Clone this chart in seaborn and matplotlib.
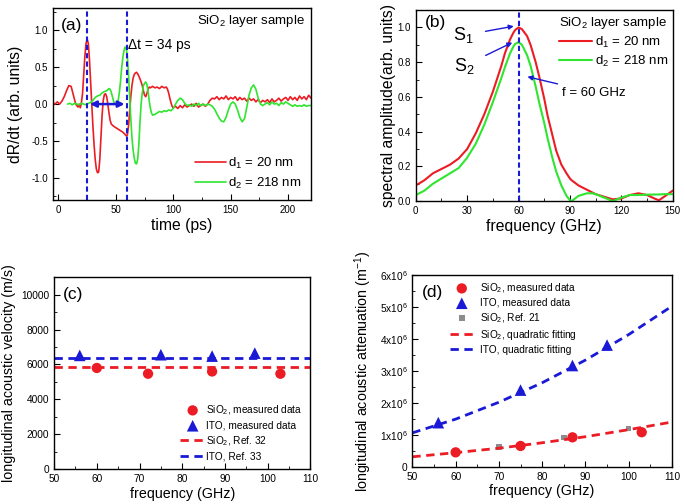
import matplotlib
matplotlib.use("Agg")
import matplotlib.pyplot as plt
import seaborn as sns
from matplotlib.ticker import MultipleLocator, FixedLocator, FixedFormatter

# ---------------- data ----------------
# (a) time-domain signals
t_d1 = [-5, -3, -1, 1, 3, 5, 7, 9, 11, 13, 15, 17, 18, 19, 20, 21, 22, 23, 24, 25,
        26, 27, 28, 29, 30, 31, 32, 33, 34, 35, 36, 37, 38, 39, 40, 41, 42, 43, 44, 45,
        46, 48, 50, 52, 54, 56, 58, 59, 60, 61, 62, 63, 64, 65, 66, 67, 68, 69, 70, 71,
        72, 73, 74, 75, 76, 77, 78, 79, 80, 82, 84, 86, 88, 90, 92, 94, 95, 96, 97, 98,
        99, 100, 102, 104, 106, 108, 110, 112, 114, 116, 118, 120, 122, 124, 126, 128,
        130, 132, 134, 136, 138, 140, 142, 144, 146, 148, 150, 152, 154, 156, 158, 160,
        162, 164, 166, 168, 170, 172, 174, 176, 178, 180, 182, 184, 186, 188, 190, 192,
        194, 196, 198, 200, 202, 204, 206, 208, 210, 212, 214, 216, 218, 220]
s_d1 = [0.02, 0.0, 0.03, 0.0, 0.04, 0.10, 0.18, 0.25, 0.24, 0.12, 0.0, -0.04, 0.0, -0.05, 0.02, 0.15, 0.40, 0.65, 0.82, 0.88,
        0.82, 0.60, 0.30, 0.0, -0.30, -0.55, -0.75, -0.88, -0.93, -0.92, -0.75, -0.45, -0.15, 0.05, 0.13, 0.14, 0.10, 0.0, -0.12, -0.22,
        -0.27, -0.30, -0.32, -0.34, -0.36, -0.38, -0.41, -0.43, -0.42, -0.30, -0.10, 0.10, 0.25, 0.35, 0.40, 0.42, 0.43, 0.41, 0.38, 0.34,
        0.30, 0.25, 0.18, 0.12, 0.10, 0.14, 0.20, 0.23, 0.22, 0.24, 0.22, 0.23, 0.21, 0.24, 0.22, 0.23, 0.20, 0.15, 0.08, 0.02,
        -0.03, -0.05, -0.03, -0.06, -0.02, -0.05, -0.01, -0.04, -0.02, 0.0, -0.03, 0.01, -0.04, -0.02, 0.0, -0.03,
        0.0, 0.05, 0.08, 0.07, 0.10, 0.06, 0.09, 0.07, 0.11, 0.06, 0.09, 0.07, 0.10, 0.05, 0.09, 0.06,
        0.08, 0.04, 0.08, 0.05, 0.07, 0.03, 0.06, 0.02, 0.05, 0.03, 0.06, 0.02, 0.07, 0.03, 0.05, 0.08,
        0.04, 0.07, 0.09, 0.05, 0.10, 0.06, 0.09, 0.05, 0.11, 0.07, 0.10, 0.06, 0.12, 0.08]

t_d2 = [8, 10, 12, 14, 16, 18, 20, 22, 24, 26, 28, 30, 32, 34, 36, 38, 40, 42, 44, 45,
        46, 47, 48, 49, 50, 51, 52, 53, 54, 55, 56, 57, 58, 59, 60, 61, 62, 63, 64, 65,
        66, 67, 68, 69, 70, 71, 72, 73, 74, 75, 76, 77, 78, 79, 80, 81, 82, 84, 86, 88,
        90, 92, 94, 96, 98, 100, 102, 104, 106, 108, 110, 112, 114, 116, 118, 120, 122, 124, 126, 128,
        130, 132, 134, 136, 138, 140, 142, 144, 146, 148, 150, 152, 154, 156, 158, 160, 162, 164, 166, 168,
        170, 172, 174, 176, 178, 180, 182, 184, 186, 188, 190, 192, 194, 196, 198, 200, 202, 204, 206, 208,
        210, 212, 214, 216, 218, 220]
s_d2 = [0.0, 0.01, -0.01, 0.01, 0.0, -0.01, 0.01, 0.0, -0.01, 0.01, 0.02, 0.05, 0.09, 0.11, 0.12, 0.15, 0.17, 0.18, 0.21, 0.20,
        0.16, 0.10, 0.04, 0.0, 0.0, 0.02, 0.05, 0.15, 0.30, 0.48, 0.62, 0.72, 0.77, 0.76, 0.65, 0.40, 0.10, -0.20, -0.45, -0.62,
        -0.73, -0.80, -0.81, -0.75, -0.55, -0.25, 0.0, 0.15, 0.25, 0.28, 0.30, 0.27, 0.18, 0.05, -0.05, -0.12, -0.15, -0.14, -0.12, -0.10,
        -0.11, -0.09, -0.10, -0.08, -0.09, -0.06, 0.0, 0.05, 0.08, 0.06, 0.01, -0.02, -0.01, -0.03, 0.0, -0.02, 0.01, -0.02, 0.0, -0.02,
        0.0, -0.01, -0.03, -0.07, -0.13, -0.19, -0.23, -0.24, -0.18, -0.08, 0.0, 0.03, 0.0, -0.08, -0.18, -0.24, -0.20, -0.05, 0.12, 0.22,
        0.26, 0.20, 0.08, 0.0, -0.02, 0.0, 0.02, -0.01, 0.03, 0.0, 0.01, -0.02, 0.02, 0.0, 0.03, 0.01, -0.01, -0.03, -0.01, -0.03,
        -0.02, -0.03, -0.01, -0.03, -0.02, -0.02]

# (b) spectra
f_spec = [0, 5, 10, 15, 20, 25, 30, 35, 40, 45, 50, 52, 55, 57, 58, 60, 62, 65, 67, 70,
          72, 75, 77, 80, 82, 85, 88, 90, 91, 95, 100, 103, 105, 110, 115, 120, 125, 130,
          135, 140, 142, 145, 150]
a_d1 = [0.09, 0.12, 0.16, 0.185, 0.21, 0.245, 0.30, 0.39, 0.50, 0.63, 0.78, 0.85, 0.93, 0.97, 0.985, 1.0, 0.99, 0.95, 0.90, 0.80,
        0.72, 0.59, 0.49, 0.37, 0.29, 0.21, 0.16, 0.13, 0.12, 0.09, 0.065, 0.05, 0.04, 0.025, 0.01, 0.015, 0.035, 0.045,
        0.035, 0.012, 0.005, 0.025, 0.06]
a_d2 = [0.035, 0.06, 0.10, 0.13, 0.16, 0.19, 0.25, 0.33, 0.44, 0.57, 0.71, 0.77, 0.85, 0.89, 0.905, 0.915, 0.90, 0.84, 0.78, 0.66,
        0.57, 0.45, 0.36, 0.24, 0.17, 0.09, 0.03, 0.005, 0.0, 0.03, 0.045, 0.045, 0.04, 0.02, 0.0, 0.02, 0.035, 0.035,
        0.037, 0.038, 0.038, 0.04, 0.04]

# (c) velocity
f_sio2_v = [60, 72, 87, 103]
v_sio2 = [5800, 5470, 5600, 5470]
f_ito_v = [56, 75, 87, 97]
v_ito = [6520, 6560, 6480, 6650]
f_ref_line = [50, 110]
v_sio2_ref = [5850, 5850]
v_ito_ref = [6400, 6400]

# (d) attenuation
f_sio2_att = [60, 75, 87, 103]
att_sio2 = [0.45e6, 0.65e6, 0.92e6, 1.08e6]
f_ito_att = [56, 75, 87, 95]
att_ito = [1.38e6, 2.40e6, 3.17e6, 3.81e6]
f_ref21 = [60, 70, 85, 100]
att_ref21 = [0.40e6, 0.61e6, 0.91e6, 1.20e6]
f_fit = [50, 60, 70, 80, 90, 100, 110]
fit_sio2 = [0.31e6, 0.44e6, 0.58e6, 0.75e6, 0.94e6, 1.16e6, 1.40e6]
fit_ito = [1.06e6, 1.49e6, 2.02e6, 2.63e6, 3.34e6, 4.14e6, 5.03e6]

RED = "#ec1c24"
GREEN = "#2fe52f"
BLUE = "#1a1ad6"
GRAY = "#8c8c8c"

# ---------------- style ----------------
sns.set_style("ticks")
plt.rcParams["font.family"] = ["Liberation Sans", "DejaVu Sans"]
plt.rcParams.update({
    "mathtext.fontset": "custom",
    "mathtext.rm": "Liberation Sans",
    "mathtext.it": "Liberation Sans:italic",
    "mathtext.default": "regular",
    "axes.unicode_minus": False,
    "xtick.direction": "in",
    "ytick.direction": "in",
    "xtick.major.size": 4, "ytick.major.size": 4,
    "xtick.minor.size": 2, "ytick.minor.size": 2,
    "xtick.labelsize": 7, "ytick.labelsize": 7,
    "axes.labelsize": 11.3,
    "axes.edgecolor": "black",
    "axes.linewidth": 1.0,
    "xtick.color": "black", "ytick.color": "black",
    "text.color": "black", "axes.labelcolor": "black",
})

fig = plt.figure(figsize=(6.85, 5.04), dpi=100)
ax_a = fig.add_axes([0.077, 0.603, 0.377, 0.381])
ax_b = fig.add_axes([0.607, 0.601, 0.375, 0.379])
ax_c = fig.add_axes([0.079, 0.069, 0.374, 0.381])
ax_d = fig.add_axes([0.602, 0.074, 0.379, 0.380])

# ---------------- (a) ----------------
ax = ax_a
sns.lineplot(x=t_d1, y=s_d1, ax=ax, color=RED, lw=1.2, label="d$_1$ = 20 nm")
sns.lineplot(x=t_d2, y=s_d2, ax=ax, color=GREEN, lw=1.2, label="d$_2$ = 218 nm")
for tv in (25, 60):
    ax.axvline(tv, color=BLUE, lw=1.5, ls=(0, (2.5, 1.5)))
ax.annotate("", xy=(25, 0), xytext=(60, 0),
            arrowprops=dict(arrowstyle="<|-|>", color=BLUE, lw=1.8, mutation_scale=9))
ax.text(60.8, 0.80, "Δt = 34 ps", fontsize=10, ha="left", va="center")
ax.text(0.03, 0.95, "(a)", transform=ax.transAxes, fontsize=12.5, ha="left", va="top")
ax.text(0.975, 0.975, "SiO$_2$ layer sample", transform=ax.transAxes, fontsize=9.5,
        ha="right", va="top")
ax.set_xlim(-5, 220)
ax.set_ylim(-1.3, 1.3)
ax.xaxis.set_major_locator(MultipleLocator(50))
ax.xaxis.set_minor_locator(MultipleLocator(25))
ax.yaxis.set_major_locator(MultipleLocator(0.5))
ax.yaxis.set_minor_locator(MultipleLocator(0.25))
ax.yaxis.set_major_formatter(lambda v, p: f"{v:.1f}")
ax.set_xlabel("time (ps)", labelpad=2)
ax.set_ylabel("dR/dt (arb. units)", labelpad=6)
ax.legend(loc="lower right", frameon=False, fontsize=9.5, handlelength=2.3,
          handletextpad=0.2, labelspacing=0.35, borderaxespad=0.3)

# ---------------- (b) ----------------
ax = ax_b
sns.lineplot(x=f_spec, y=a_d1, ax=ax, color=RED, lw=1.5, label="d$_1$ = 20 nm")
sns.lineplot(x=f_spec, y=a_d2, ax=ax, color=GREEN, lw=1.5, label="d$_2$ = 218 nm")
ax.axvline(60, color=BLUE, lw=1.5, ls=(0, (2.5, 1.5)))
arrow_kw = dict(arrowstyle="-|>", color=BLUE, lw=1.0, mutation_scale=7)
ax.annotate("S$_1$", xy=(58.8, 1.01), xytext=(28, 0.955), fontsize=13,
            ha="center", va="center", arrowprops=dict(arrow_kw, shrinkA=6))
ax.annotate("S$_2$", xy=(57.8, 0.92), xytext=(28.5, 0.78), fontsize=13,
            ha="center", va="center", arrowprops=dict(arrow_kw, shrinkA=6))
ax.annotate("f = 60 GHz", xy=(63.6, 0.72), xytext=(85.5, 0.625), fontsize=9.5,
            ha="left", va="center", arrowprops=dict(arrow_kw, shrinkA=1))
ax.text(0.035, 0.975, "(b)", transform=ax.transAxes, fontsize=12.5, ha="left", va="top")
ax.set_xlim(0, 150)
ax.set_ylim(0, 1.1)
ax.xaxis.set_major_locator(MultipleLocator(30))
ax.xaxis.set_minor_locator(MultipleLocator(15))
ax.yaxis.set_major_locator(MultipleLocator(0.2))
ax.yaxis.set_minor_locator(MultipleLocator(0.1))
ax.yaxis.set_major_formatter(lambda v, p: f"{v:.1f}")
ax.set_xlabel("frequency (GHz)", labelpad=2)
ax.set_ylabel("spectral amplitude(arb. units)", labelpad=1)
ax.legend(loc="upper right", frameon=False, fontsize=9.5, title="SiO$_2$ layer sample",
          title_fontsize=9.5, alignment="left", handlelength=2.5, handletextpad=0.2,
          labelspacing=0.3, borderaxespad=0.15, borderpad=0.2)

# ---------------- (c) ----------------
ax = ax_c
sns.scatterplot(x=f_sio2_v, y=v_sio2, ax=ax, color=RED, marker="o", s=55, edgecolor="none",
                label="SiO$_2$, measured data", zorder=3)
sns.scatterplot(x=f_ito_v, y=v_ito, ax=ax, color=BLUE, marker="^", s=70, edgecolor="none",
                label="ITO, measured data", zorder=3)
sns.lineplot(x=f_ref_line, y=v_sio2_ref, ax=ax, color=RED, lw=2, ls=(0, (3, 2)),
             label="SiO$_2$, Ref. 32")
sns.lineplot(x=f_ref_line, y=v_ito_ref, ax=ax, color=BLUE, lw=2, ls=(0, (3, 2)),
             label="ITO, Ref. 33")
ax.text(0.035, 0.95, "(c)", transform=ax.transAxes, fontsize=12.5, ha="left", va="top")
ax.set_xlim(50, 110)
ax.set_ylim(0, 11000)
ax.xaxis.set_major_locator(MultipleLocator(10))
ax.xaxis.set_minor_locator(MultipleLocator(5))
ax.yaxis.set_major_locator(MultipleLocator(2000))
ax.yaxis.set_minor_locator(MultipleLocator(1000))
ax.tick_params(labelsize=7.3)
ax.set_xlabel("frequency (GHz)", labelpad=2, fontsize=10.3)
ax.set_ylabel("longitudinal acoustic velocity (m/s)", labelpad=4, fontsize=10.3)
ax.legend(loc="lower right", frameon=False, fontsize=7.3, handlelength=2.4,
          handletextpad=0.1, labelspacing=0.35, borderaxespad=0.4)

# ---------------- (d) ----------------
ax = ax_d
sns.scatterplot(x=f_sio2_att, y=att_sio2, ax=ax, color=RED, marker="o", s=55, edgecolor="none",
                label="SiO$_2$, measured data", zorder=3)
sns.scatterplot(x=f_ito_att, y=att_ito, ax=ax, color=BLUE, marker="^", s=70, edgecolor="none",
                label="ITO, measured data", zorder=3)
sns.scatterplot(x=f_ref21, y=att_ref21, ax=ax, color=GRAY, marker="s", s=16, edgecolor="none",
                label="SiO$_2$, Ref. 21", zorder=2)
sns.lineplot(x=f_fit, y=fit_sio2, ax=ax, color=RED, lw=2, ls=(0, (3, 2)),
             label="SiO$_2$, quadratic fitting")
sns.lineplot(x=f_fit, y=fit_ito, ax=ax, color=BLUE, lw=2, ls=(0, (3, 2)),
             label="ITO, quadratic fitting")
ax.text(0.035, 0.95, "(d)", transform=ax.transAxes, fontsize=12.5, ha="left", va="top")
ax.set_xlim(50, 110)
ax.set_ylim(0, 6e6)
ax.xaxis.set_major_locator(MultipleLocator(10))
ax.xaxis.set_minor_locator(MultipleLocator(5))
ax.yaxis.set_major_locator(FixedLocator([0, 1e6, 2e6, 3e6, 4e6, 5e6, 6e6]))
ax.yaxis.set_major_formatter(FixedFormatter(["0"] + [f"{k}x10$^6$" for k in range(1, 7)]))
ax.yaxis.set_minor_locator(MultipleLocator(0.5e6))
ax.tick_params(labelsize=7.3)
ax.set_xlabel("frequency (GHz)", labelpad=2, fontsize=10.3)
ax.set_ylabel("longitudinal acoustic attenuation (m$^{-1}$)", labelpad=4, fontsize=10.3)
ax.legend(loc="upper left", frameon=False, fontsize=7.3, handlelength=2.4,
          handletextpad=0.6, labelspacing=0.3, borderaxespad=0.2,
          bbox_to_anchor=(0.12, 1.0))

for ax in (ax_a, ax_b, ax_c, ax_d):
    ax.tick_params(which="both", top=False, right=False)
    for sp in ax.spines.values():
        sp.set_visible(True)
        sp.set_color("black")

fig.savefig("out.png", dpi=100)
